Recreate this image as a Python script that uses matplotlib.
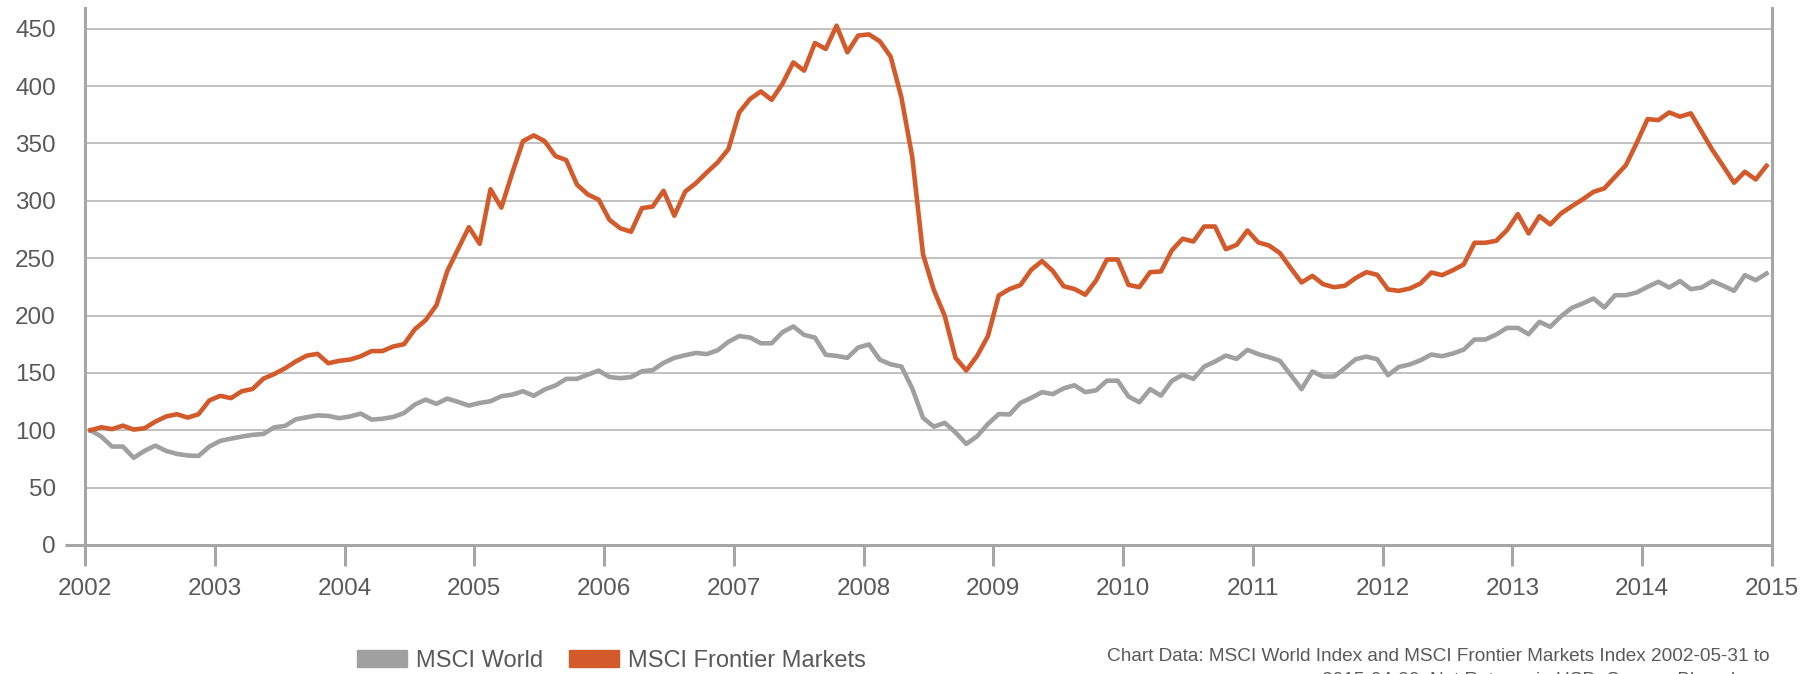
import numpy as np
import matplotlib
matplotlib.use("Agg")
import matplotlib.pyplot as plt
from matplotlib.patches import Patch

# Monthly index levels, start = 100
msci_world = [
    100, 94.5, 85.8, 85.8, 76, 82, 86.6, 82, 79.4, 78, 77.6, 85.8,
    90.7, 92.7, 94.5, 96, 96.8, 102.6, 103.8, 109.6, 111.3, 113, 112.5, 110.5,
    112, 114.5, 109.3, 110, 111.6, 115, 122.4, 126.7, 123, 127.6, 124.7, 121.5,
    123.8, 125.3, 129.7, 131, 134, 130, 135.5, 139, 144.8, 144.8, 148.5, 152,
    146.4, 145.4, 146.4, 151.4, 152.4, 158.7, 163.1, 165.4, 167.4, 166.4, 169.7, 177.1,
    182.1, 180.8, 175.8, 175.8, 185.5, 190.5, 183.1, 180.8, 165.8, 164.8, 163.1, 172.1,
    174.8, 161.5, 157.5, 155.5, 136.5, 110.8, 103.1, 106.5, 98.1, 88.1, 94.8, 105.5,
    114.1, 113.8, 123.8, 128.2, 133.2, 131.5, 136.5, 139.2, 133.2, 134.8, 143.2, 143.2,
    129.4, 124.4, 135.8, 130.2, 143, 148.3, 144.8, 155.5, 159.9, 165.1, 162.2, 170.1,
    166.3, 163.7, 160.5, 148.3, 135.8, 151.2, 146.8, 146.8, 154.1, 161.9, 164.2, 161.9,
    148, 155.2, 157.3, 161, 166, 164.5, 166.9, 170.3, 179.1, 179.1, 183.4, 189.2,
    189.2, 183.7, 194.5, 190.1, 199.4, 206.7, 210.5, 214.8, 207, 217.7, 217.7, 220.1,
    225, 229.4, 224.4, 230, 223, 224.4, 230, 225.9, 221.5, 235.2, 230.8, 236.6,
]
msci_frontier = [
    100, 102.6, 101, 104, 100.6, 101.7, 107.5, 112, 114, 111, 114, 126,
    130, 128, 134, 136, 145, 149, 154, 160, 165, 166.6, 158.4, 160.5,
    161.6, 164.5, 169, 169, 173, 175, 188, 196, 209, 238.7, 258, 277,
    262.5, 310, 294, 324, 352, 357, 352, 339, 335.5, 314, 305.5, 301,
    283.4, 276, 273, 293.6, 295, 308.7, 287, 308, 315.4, 324.7, 333.4, 345,
    377, 388.7, 395.3, 388, 402, 420.6, 413.4, 437.5, 432.3, 452.6, 429.4, 444,
    445, 439, 425.7, 390, 338.2, 253.2, 222.2, 199.8, 163.1, 152.1, 164.8, 182.1,
    217.5, 223.1, 226.5, 239.8, 247.5, 238.8, 225.5, 223.1, 218.1, 230.5, 248.8, 248.8,
    226.7, 224.7, 237.8, 238.4, 256.7, 266.9, 264.5, 277.6, 277.6, 257.8, 261.6, 274.1,
    263.7, 261, 254.4, 241.3, 228.8, 234.6, 227.3, 224.7, 225.9, 232.6, 237.8, 235.5,
    222.7, 221.5, 223.5, 227.9, 237.5, 235.2, 239.5, 244.5, 263.4, 263.4, 265.1, 274.4,
    288.4, 271.5, 286.6, 279.4, 289, 295.3, 301.2, 307.8, 310.8, 320.9, 331.1, 350.5,
    371.2, 370.3, 377, 373.3, 376.2, 360.2, 344.2, 330.2, 315.7, 325.3, 318.6, 330.5,
]
years = list(range(2002, 2016))
y_ticks = list(range(0, 451, 50))

GREY = "#A0A0A0"
ORANGE = "#D35A2A"
AXIS = "#A6A6A6"
TEXT = "#595959"

plt.rcParams["font.family"] = ["Liberation Sans", "DejaVu Sans"]

fig = plt.figure(figsize=(18.09, 6.74), dpi=100)
ax = fig.add_axes([0.047, 0.1914, 0.9325, 0.7967])

months = np.arange(len(msci_world)) + 0.5
ax.plot(months, msci_world, color=GREY, lw=3.3, solid_joinstyle="round", zorder=3)
ax.plot(months, msci_frontier, color=ORANGE, lw=3.3, solid_joinstyle="round", zorder=4)

ax.set_xlim(0, 12 * (len(years) - 1))
ax.set_ylim(0, 468)
ax.set_xticks([12 * k for k in range(len(years))])
ax.set_xticklabels([str(y) for y in years])
ax.set_yticks(y_ticks)

for v in y_ticks[1:]:
    ax.axhline(v, color="#B0B0B0", lw=1.1, zorder=1)

for s in ["left", "right", "bottom"]:
    ax.spines[s].set_color(AXIS)
    ax.spines[s].set_linewidth(2.2)
ax.spines["top"].set_visible(False)

ax.tick_params(axis="x", direction="out", length=15, width=2.2, color=AXIS,
               pad=9, labelsize=17.5, labelcolor=TEXT)
ax.tick_params(axis="y", length=0, pad=21, labelsize=17.5, labelcolor=TEXT)

# zero line reaches a bit left of the value axis
ax.plot([-0.012, 0], [0, 0], color=AXIS, lw=2.2, clip_on=False,
        transform=ax.get_yaxis_transform(), solid_capstyle="butt")

handles = [Patch(color=GREY, label="MSCI World"),
           Patch(color=ORANGE, label="MSCI Frontier Markets")]
fig.legend(handles=handles, loc="center", bbox_to_anchor=(0.338, 0.02),
           ncol=2, frameon=False, fontsize=17, handlelength=2.1,
           handleheight=0.75, handletextpad=0.4, columnspacing=1.1,
           borderpad=0, labelcolor=TEXT)

fig.text(0.978, 0.026, "Chart Data: MSCI World Index and MSCI Frontier Markets Index 2002-05-31 to",
         ha="right", va="center", fontsize=13.7, color=TEXT)
fig.text(0.978, -0.01, "2015-04-30. Net Returns in USD. Source: Bloomberg",
         ha="right", va="center", fontsize=13.7, color=TEXT)

fig.savefig("out.png", dpi=100)
